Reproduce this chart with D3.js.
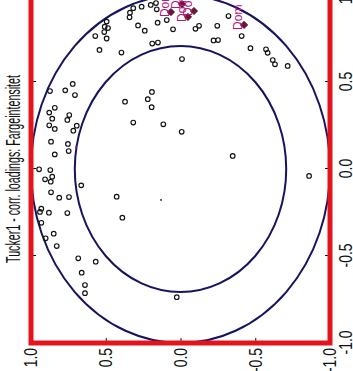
<!DOCTYPE html>
<html>
<head>
<meta charset="utf-8">
<script src="https://cdn.jsdelivr.net/npm/d3@7"></script>
<style>
  html, body { margin: 0; padding: 0; background: #ffffff; overflow: hidden; }
  svg { display: block; }
</style>
</head>
<body>
<svg id="chart" width="353" height="371"></svg>
<script>
// Tucker-1 correlation loadings (PC1 on x, PC2 on y); the plot is drawn turned 90 degrees.
const chartTitle = "Tucker1 - corr. loadings: Fargeintensitet";
const tickValues = [-1.0, -0.5, 0.0, 0.5, 1.0];
const tickLabels = ["-1.0", "-0.5", "0.0", "0.5", "1.0"];

// Explained-variance reference circles: 100 % and 50 %
const circleRadii = [1.0, 0.7071];

// Assessor loadings (open circles)
const loadX = [
  0.489, 0.448, 0.452, 0.425, 0.387, 0.352, 0.324, 0.310, 0.289, 0.282,
  0.251, 0.249, 0.230, 0.220, 0.157, 0.144, 0.084, 0.103, -0.002, -0.006,
  -0.044, -0.059, -0.073, -0.094, -0.134, -0.159, -0.165, -0.161, -0.228, -0.247,
  -0.251, -0.253, -0.280, -0.309, -0.372, -0.398, -0.443, -0.513, 0.847, 0.818,
  0.810, 0.787, 0.750, 0.764, 0.684, 0.669, -0.596, -0.533, -0.667, -0.714,
  0.924, 0.933, 0.943, 0.954, 0.898, 0.872, 0.918, 0.825, 0.795, 0.841,
  0.856, 0.803, 0.806, 0.823, 0.823, 0.879, 0.721, 0.727, 0.739, 0.741,
  0.764, 0.694, 0.632, 0.688, 0.668, 0.626, 0.602, 0.592, 0.443, 0.401,
  0.355, 0.267, 0.257, 0.214, 0.075, -0.040, -0.737
];
const loadY = [
  0.721, 0.873, 0.771, 0.706, 0.371, 0.841, 0.878, 0.744, 0.858, 0.757,
  0.878, 0.694, 0.841, 0.717, 0.866, 0.753, 0.841, 0.748, 0.946, 0.871,
  0.858, 0.906, 0.868, 0.664, 0.866, 0.427, 0.811, 0.746, 0.931, 0.940,
  0.880, 0.757, 0.389, 0.931, 0.848, 0.902, 0.828, 0.684, 0.494, 0.507,
  0.485, 0.510, 0.494, 0.570, 0.542, 0.395, 0.661, 0.567, 0.639, 0.639,
  0.316, 0.260, 0.199, 0.164, 0.338, 0.341, 0.159, 0.284, 0.239, 0.153,
  0.092, 0.050, -0.100, -0.124, -0.246, -0.321, 0.189, 0.151, -0.221, -0.251,
  -0.409, -0.468, -0.010, -0.572, -0.583, -0.617, -0.632, -0.717, 0.191, 0.219,
  0.193, 0.316, 0.115, -0.008, -0.349, -0.860, 0.025
];

// Attribute loadings (filled diamonds with labels)
const attrX = [0.902, 0.874, 0.908, 0.948, 0.828];
const attrY = [0.064, -0.050, -0.090, -0.010, -0.425];
const attrLabels = ["Dom", "Dom", "Dom", "Dom", "Dom"];

// Origin marker and a single highlighted loading
const originX = [-0.178];
const originY = [0.130];
const markX = [0.126];
const markY = [0.699];

// ---- layout ----
const W = 348, H = 299;           // plot box in its own (unturned) frame
const svg = d3.select("#chart");
const g = svg.append("g").attr("transform", "translate(31,343) rotate(-90)");

const x = d3.scaleLinear().domain([-1, 1]).range([0, W]);
const y = d3.scaleLinear().domain([-1, 1]).range([H, 0]);

// reference circles
g.selectAll("ellipse.ref")
  .data(circleRadii)
  .join("ellipse")
  .attr("class", "ref")
  .attr("cx", x(0)).attr("cy", y(0))
  .attr("rx", r => x(r) - x(0))
  .attr("ry", r => y(0) - y(r))
  .attr("fill", "none")
  .attr("stroke", "#15145f")
  .attr("stroke-width", 2);

// assessor loadings
const pts = loadX.map((v, i) => ({ x: v, y: loadY[i] }));
g.selectAll("circle.pt")
  .data(pts)
  .join("circle")
  .attr("class", "pt")
  .attr("cx", d => x(d.x)).attr("cy", d => y(d.y))
  .attr("r", 2.3)
  .attr("fill", "none")
  .attr("stroke", "#111")
  .attr("stroke-width", 1.15);

g.selectAll("circle.origin")
  .data(originX.map((v, i) => ({ x: v, y: originY[i] })))
  .join("circle")
  .attr("class", "origin")
  .attr("cx", d => x(d.x)).attr("cy", d => y(d.y))
  .attr("r", 0.9).attr("fill", "#111");

g.selectAll("circle.mark")
  .data(markX.map((v, i) => ({ x: v, y: markY[i] })))
  .join("circle")
  .attr("class", "mark")
  .attr("cx", d => x(d.x)).attr("cy", d => y(d.y))
  .attr("r", 1.1).attr("fill", "#9a2c8c");

// attribute loadings
const attrs = attrX.map((v, i) => ({ x: v, y: attrY[i], label: attrLabels[i] }));
const diamond = d3.symbol().type(d3.symbolSquare).size(26);
g.selectAll("path.attr")
  .data(attrs)
  .join("path")
  .attr("class", "attr")
  .attr("d", diamond)
  .attr("transform", d => `translate(${x(d.x)},${y(d.y)}) rotate(45)`)
  .attr("fill", "#6e1433")
  .attr("stroke", "#4a0a22")
  .attr("stroke-width", 0.8);

g.selectAll("text.attr")
  .data(attrs)
  .join("text")
  .attr("class", "attr")
  .attr("x", d => x(d.x) - 5)
  .attr("y", d => y(d.y) - 2)
  .attr("fill", "#b3147d")
  .attr("font-family", "'Liberation Sans', Arial, sans-serif")
  .attr("font-size", 12)
  .text(d => d.label);

// tick label widths (narrow face)
const fs = 18;
const charW = c => (c === "." ? 0.215 : c === "-" ? 0.26 : 0.43) * fs;
const labelLen = s => d3.sum(s.split(""), charW);
const fmt = v => tickLabels[tickValues.indexOf(v)];

// axes with inward ticks
const axB = g.append("g").attr("transform", `translate(0,${H})`)
  .call(d3.axisBottom(x).tickValues(tickValues).tickFormat(fmt).tickSize(-5).tickPadding(9));
const axT = g.append("g")
  .call(d3.axisTop(x).tickValues(tickValues).tickFormat("").tickSize(-5));
const axL = g.append("g")
  .call(d3.axisLeft(y).tickValues(tickValues).tickFormat(fmt).tickSize(-5).tickPadding(5));
const axR = g.append("g").attr("transform", `translate(${W},0)`)
  .call(d3.axisRight(y).tickValues(tickValues).tickFormat("").tickSize(-5));

[axB, axT, axL, axR].forEach(a => {
  a.select(".domain").remove();
  a.selectAll(".tick line").attr("stroke", "#111").attr("stroke-width", 1);
  a.selectAll("text")
    .attr("fill", "#111")
    .attr("font-family", "'Liberation Sans Narrow', 'Liberation Sans', Arial, sans-serif")
    .attr("font-size", fs)
    .attr("textLength", function () { return labelLen(this.textContent); })
    .attr("lengthAdjust", "spacingAndGlyphs");
});

// red plot frame
g.append("rect")
  .attr("x", x(-1)).attr("y", y(1))
  .attr("width", x(1) - x(-1)).attr("height", y(-1) - y(1))
  .attr("fill", "none")
  .attr("stroke", "#e3141c")
  .attr("stroke-width", 5);

// title
g.append("text")
  .attr("x", x(0))
  .attr("y", -11)
  .attr("text-anchor", "middle")
  .attr("fill", "#111")
  .attr("font-family", "'Liberation Sans Narrow', 'Liberation Sans', Arial, sans-serif")
  .attr("font-size", 21)
  .attr("textLength", 188)
  .attr("lengthAdjust", "spacingAndGlyphs")
  .text(chartTitle);
</script>
</body>
</html>
